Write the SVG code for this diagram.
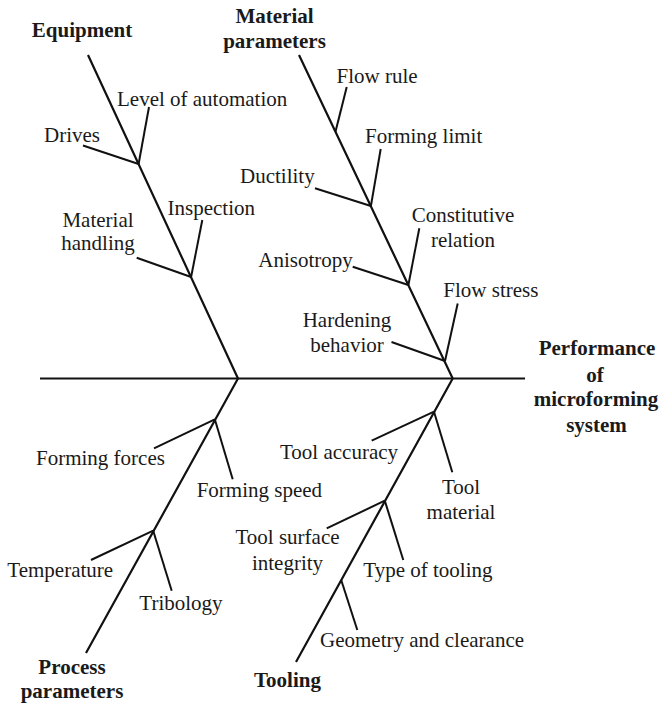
<svg xmlns="http://www.w3.org/2000/svg" width="660" height="706" viewBox="0 0 660 706">
<style>
text{font-family:"Liberation Serif","Times New Roman",serif;font-size:21px;fill:#1a1a1a}
.b{font-weight:bold}
.m{text-anchor:middle}
.main{stroke:#111;stroke-width:2.2;fill:none;stroke-linecap:butt}
.br{stroke:#111;stroke-width:2;fill:none}
</style>
<rect width="660" height="706" fill="#fff"/>
<g id="connectors">
<line class="main" x1="40" y1="378.5" x2="525" y2="378.5"/>
<polyline class="main" points="88,55 238,378.5 86,653"/>
<polyline class="main" points="299,55 452.7,378.5 296,662"/>
<line class="br" x1="149" y1="107" x2="138.6" y2="164"/>
<line class="br" x1="83" y1="145.5" x2="138.6" y2="164"/>
<line class="br" x1="202.3" y1="220" x2="191.1" y2="277"/>
<line class="br" x1="136.7" y1="257.7" x2="191.1" y2="277"/>
<line class="br" x1="346.7" y1="87" x2="335.5" y2="131.7"/>
<line class="br" x1="380.7" y1="149" x2="370.9" y2="206"/>
<line class="br" x1="315" y1="188.3" x2="370.9" y2="206"/>
<line class="br" x1="419.3" y1="228.3" x2="408.4" y2="285"/>
<line class="br" x1="352.7" y1="266.7" x2="408.4" y2="285"/>
<line class="br" x1="457.7" y1="303.5" x2="445" y2="361"/>
<line class="br" x1="391.5" y1="342" x2="445" y2="361"/>
<line class="br" x1="154" y1="448.3" x2="214.8" y2="419.3"/>
<line class="br" x1="214.8" y1="419.3" x2="232.7" y2="479.3"/>
<line class="br" x1="91" y1="560" x2="153.2" y2="530.7"/>
<line class="br" x1="153.2" y1="530.7" x2="171.7" y2="590.7"/>
<line class="br" x1="371.7" y1="440.7" x2="434" y2="411.7"/>
<line class="br" x1="434" y1="411.7" x2="452.3" y2="472.3"/>
<line class="br" x1="326.7" y1="528.3" x2="384.8" y2="500.7"/>
<line class="br" x1="384.8" y1="500.7" x2="403.3" y2="560"/>
<line class="br" x1="341.2" y1="580" x2="357.3" y2="630"/>
</g>
<g id="equipment">
<text class="b m" x="82" y="37">Equipment</text>
<text x="117" y="106">Level of automation</text>
<text x="44" y="141.5">Drives</text>
<text x="167.5" y="215">Inspection</text>
<text class="m" x="98" y="226.5">Material</text>
<text class="m" x="98" y="250">handling</text>
</g>
<g id="material-parameters">
<text class="b m" x="274.5" y="23">Material</text>
<text class="b m" x="274.5" y="48">parameters</text>
<text x="336.5" y="83.3">Flow rule</text>
<text x="365" y="143.3">Forming limit</text>
<text x="240" y="183.3">Ductility</text>
<text class="m" x="463" y="221.7">Constitutive</text>
<text class="m" x="463" y="246.7">relation</text>
<text x="258.3" y="266.7">Anisotropy</text>
<text x="443.3" y="296.7">Flow stress</text>
<text class="m" x="347" y="326.7">Hardening</text>
<text class="m" x="347" y="351.7">behavior</text>
</g>
<g id="performance">
<text class="b m" x="597" y="355">Performance</text>
<text class="b m" x="595" y="381.7">of</text>
<text class="b m" x="596" y="406">microforming</text>
<text class="b m" x="596.5" y="431.5">system</text>
</g>
<g id="process-parameters">
<text x="36" y="465">Forming forces</text>
<text x="196.7" y="496.7">Forming speed</text>
<text x="7.3" y="576.7">Temperature</text>
<text x="139.3" y="610">Tribology</text>
<text class="b m" x="72" y="674">Process</text>
<text class="b m" x="72" y="698.3">parameters</text>
</g>
<g id="tooling">
<text x="280" y="459.3">Tool accuracy</text>
<text class="m" x="461" y="494">Tool</text>
<text class="m" x="461" y="519.3">material</text>
<text class="m" x="287.5" y="544">Tool surface</text>
<text class="m" x="287.5" y="570">integrity</text>
<text x="363.3" y="576.7">Type of tooling</text>
<text x="320" y="647.3">Geometry and clearance</text>
<text class="b m" x="287.5" y="686.7">Tooling</text>
</g>
</svg>
